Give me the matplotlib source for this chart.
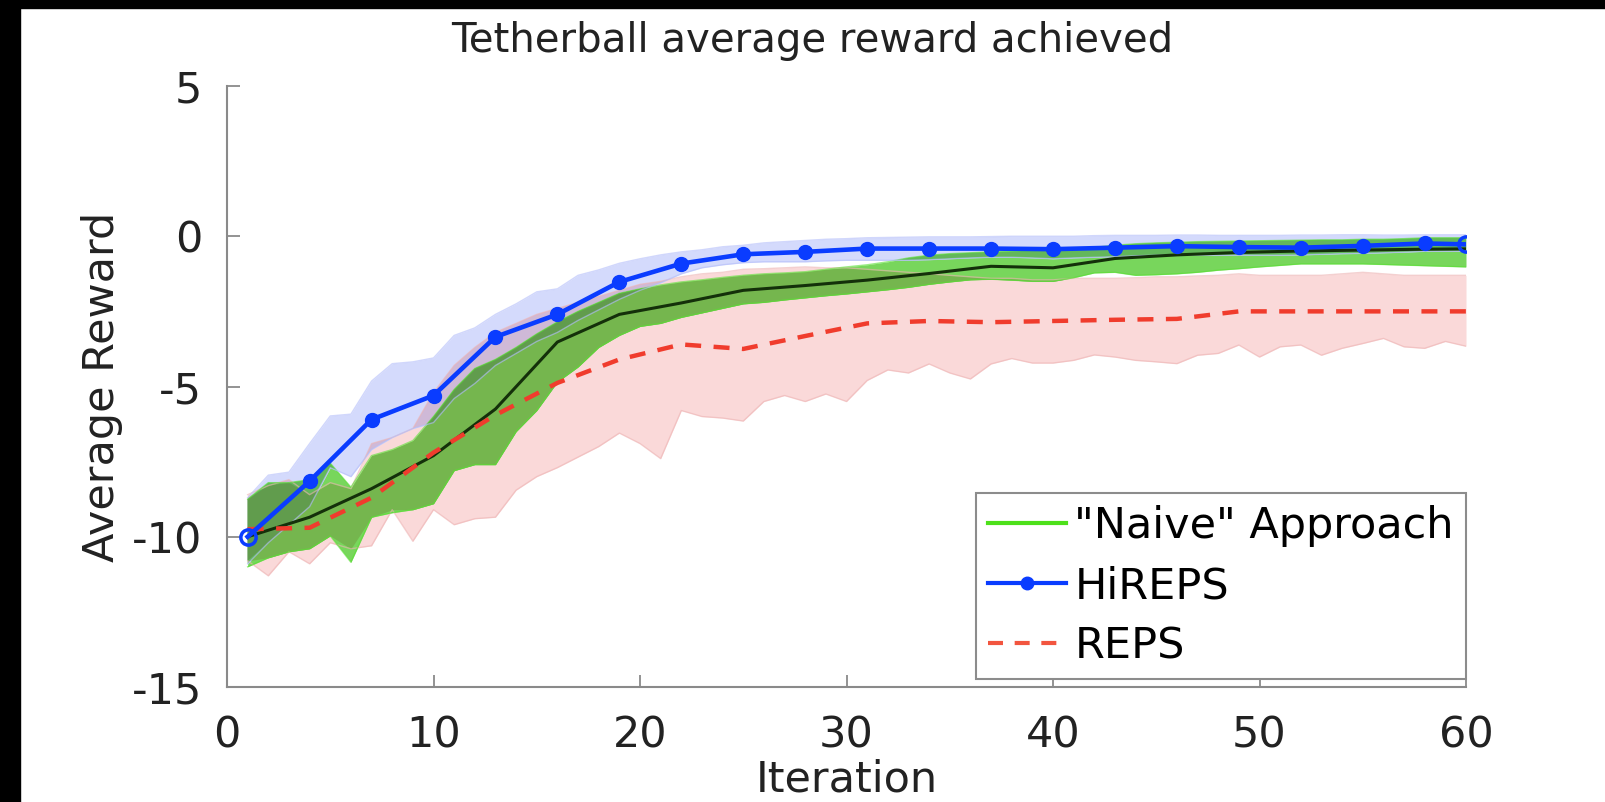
import numpy as np
import matplotlib
matplotlib.use("Agg")
import matplotlib.pyplot as plt
from matplotlib.lines import Line2D
from matplotlib.patches import Rectangle

plt.rcParams['font.family'] = ['DejaVu Sans']

iters = np.arange(1, 61)
mean_iters = [1, 4, 7, 10, 13, 16, 19, 22, 25, 28, 31, 34, 37, 40, 43, 46, 49, 52, 55, 58, 60]

hireps_mean = [-10.0, -8.15, -6.1, -5.3, -3.35, -2.6, -1.52, -0.91, -0.6, -0.52, -0.41,
               -0.41, -0.41, -0.43, -0.38, -0.33, -0.36, -0.38, -0.32, -0.24, -0.27]
naive_mean = [-10.0, -9.35, -8.4, -7.3, -5.75, -3.52, -2.6, -2.22, -1.8, -1.64, -1.46,
              -1.24, -1.0, -1.05, -0.74, -0.62, -0.54, -0.49, -0.46, -0.43, -0.42]
reps_mean = [-9.75, -9.7, -8.7, -7.2, -5.95, -4.88, -4.1, -3.6, -3.75, -3.32, -2.9,
             -2.82, -2.86, -2.82, -2.78, -2.75, -2.5, -2.5, -2.5, -2.5, -2.5]

hireps_hi = [-8.7, -7.95, -7.85, -6.9, -5.98, -5.92, -4.82, -4.24, -4.18, -4.05,
             -3.3, -3.05, -2.6, -2.25, -1.85, -1.75, -1.3, -1.12, -0.9, -0.75,
             -0.62, -0.52, -0.45, -0.35, -0.3, -0.22, -0.18, -0.14, -0.1, -0.08,
             -0.05, -0.04, -0.03, -0.02, -0.02, -0.02, -0.01, 0.0, 0.0, 0.0,
             0.0, 0.02, 0.03, 0.03, 0.03, 0.04, 0.04, 0.03, 0.03, 0.03,
             0.03, 0.04, 0.04, 0.05, 0.05, 0.04, 0.04, 0.05, 0.05, 0.05]
hireps_lo = [-10.9, -10.2, -9.6, -9.0, -7.7, -8.0, -7.1, -6.7, -6.4, -6.2,
             -5.4, -4.9, -4.3, -3.9, -3.5, -3.2, -2.8, -2.45, -2.1, -1.8,
             -1.55, -1.25, -1.05, -0.95, -0.88, -0.85, -0.85, -0.85, -0.82, -0.8,
             -0.8, -0.8, -0.8, -0.78, -0.75, -0.72, -0.7, -0.7, -0.72, -0.75,
             -0.72, -0.7, -0.68, -0.65, -0.63, -0.62, -0.62, -0.63, -0.63, -0.63,
             -0.63, -0.62, -0.6, -0.58, -0.57, -0.55, -0.53, -0.5, -0.5, -0.5]

naive_hi = [-8.75, -8.2, -8.2, -8.1, -7.55, -8.35, -7.3, -7.1, -6.8, -6.0,
            -5.1, -4.4, -4.1, -3.7, -3.25, -2.85, -2.5, -2.2, -1.9, -1.75,
            -1.62, -1.52, -1.45, -1.37, -1.3, -1.25, -1.22, -1.18, -1.1, -1.02,
            -0.95, -0.85, -0.72, -0.63, -0.58, -0.55, -0.52, -0.5, -0.48, -0.47,
            -0.42, -0.37, -0.3, -0.25, -0.22, -0.2, -0.18, -0.17, -0.16, -0.15,
            -0.14, -0.13, -0.12, -0.12, -0.1, -0.1, -0.08, -0.05, -0.05, -0.05]
naive_lo = [-11.0, -10.7, -10.5, -10.4, -9.97, -10.85, -9.35, -9.2, -9.1, -8.9,
            -7.8, -7.6, -7.6, -6.5, -5.8, -4.85, -4.35, -3.7, -3.3, -3.0,
            -2.9, -2.7, -2.55, -2.4, -2.25, -2.2, -2.12, -2.05, -1.98, -1.92,
            -1.85, -1.78, -1.7, -1.6, -1.52, -1.45, -1.43, -1.46, -1.5, -1.5,
            -1.38, -1.22, -1.2, -1.3, -1.28, -1.25, -1.2, -1.13, -1.08, -1.02,
            -0.97, -0.92, -0.92, -0.92, -0.92, -0.94, -0.96, -0.98, -1.0, -1.02]

reps_hi = [-8.6, -8.3, -8.1, -8.6, -8.2, -8.4, -6.9, -6.7, -6.4, -5.2,
           -4.3, -3.7, -3.2, -2.9, -2.6, -2.4, -2.2, -2.0, -1.8, -1.6,
           -1.5, -1.35, -1.25, -1.2, -1.1, -1.08, -1.05, -1.02, -1.05, -1.05,
           -1.1, -1.15, -1.2, -1.25, -1.3, -1.35, -1.4, -1.4, -1.45, -1.45,
           -1.4, -1.4, -1.4, -1.38, -1.35, -1.35, -1.32, -1.3, -1.25, -1.3,
           -1.3, -1.3, -1.3, -1.25, -1.2, -1.25, -1.3, -1.3, -1.3, -1.3]
reps_lo = [-10.8, -11.3, -10.5, -10.9, -10.2, -10.4, -10.3, -9.1, -10.15, -9.1,
           -9.6, -9.4, -9.35, -8.45, -8.0, -7.7, -7.35, -7.0, -6.55, -6.9,
           -7.4, -5.8, -6.0, -6.05, -6.15, -5.5, -5.3, -5.5, -5.25, -5.5,
           -4.8, -4.45, -4.55, -4.25, -4.55, -4.75, -4.25, -4.07, -4.22, -4.22,
           -4.13, -3.95, -4.02, -4.13, -4.18, -4.24, -3.96, -3.9, -3.62, -4.02,
           -3.68, -3.62, -3.96, -3.73, -3.57, -3.4, -3.68, -3.73, -3.5, -3.66]

labels = ['"Naive" Approach', 'HiREPS', 'REPS']

# shaded band colours; where bands overlap the colours are multiplied
bands = {
    'reps': (reps_lo, reps_hi, np.array([0.98, 0.85, 0.85])),
    'naive': (naive_lo, naive_hi, np.array([0.47, 0.84, 0.36])),
    'hireps': (hireps_lo, hireps_hi, np.array([0.83, 0.855, 0.99])),
}


def fill_bands(ax, names, z):
    lo = np.max([np.asarray(bands[n][0]) for n in names], axis=0)
    hi = np.min([np.asarray(bands[n][1]) for n in names], axis=0)
    col = np.prod([bands[n][2] for n in names], axis=0)
    ax.fill_between(iters, lo, hi, where=hi > lo, interpolate=True,
                    color=col, lw=0, zorder=z)


fig = plt.figure(figsize=(16.05, 8.02), dpi=100)
ax = fig.add_axes([227 / 1605, 1 - 687 / 802, 1239 / 1605, 601 / 802])

for n in ['reps', 'naive', 'hireps']:
    fill_bands(ax, [n], 1)
for pair in [['reps', 'naive'], ['reps', 'hireps'], ['naive', 'hireps']]:
    fill_bands(ax, pair, 1.2)
fill_bands(ax, ['reps', 'naive', 'hireps'], 1.4)

# thin band outlines
edge_cols = {'reps': (0.93, 0.7, 0.7), 'naive': (0.35, 0.88, 0.2), 'hireps': (0.7, 0.74, 0.98)}
for n, (lo, hi, _) in bands.items():
    ax.plot(iters, lo, color=edge_cols[n], lw=1, alpha=0.6, zorder=1.6)
    ax.plot(iters, hi, color=edge_cols[n], lw=1, alpha=0.6, zorder=1.6)

ax.plot(mean_iters, naive_mean, color='#14300a', lw=2.2, zorder=4)
ax.plot(mean_iters, reps_mean, color='#f03c2d', lw=3.2, dashes=(3.6, 2.8), zorder=4)
ax.plot(mean_iters, hireps_mean, color='#0a3cff', lw=3.3, marker='o', ms=10,
        markevery=list(range(1, len(mean_iters) - 1)), zorder=5)
ax.plot([mean_iters[0], mean_iters[-1]], [hireps_mean[0], hireps_mean[-1]], 'o',
        ms=11, mfc='none', mec='#0a3cff', mew=2.5, zorder=5)

ax.set_xlim(0, 60)
ax.set_ylim(-15, 5)
ax.set_xticks([0, 10, 20, 30, 40, 50, 60])
ax.set_yticks([-15, -10, -5, 0, 5])
ax.set_yticklabels(['-15', '-10', '-5', '0', '5'])
for s in ['top', 'right']:
    ax.spines[s].set_visible(False)
for s in ['left', 'bottom']:
    ax.spines[s].set_color('#8a8a8a')
    ax.spines[s].set_linewidth(1.5)
ax.tick_params(direction='in', length=9, width=1.3, color='#8a8a8a',
               labelsize=31, labelcolor='#222222')
ax.tick_params(axis='x', pad=20)
ax.tick_params(axis='y', pad=18)

fig.text(812 / 1605, 1 - 41 / 802, 'Tetherball average reward achieved',
         ha='center', va='center', fontsize=29, color='#222222')
ax.set_ylabel('Average Reward', fontsize=31, color='#222222', labelpad=6)
fig.text(847 / 1605, 1 - 792 / 802, 'Iteration', ha='center', va='baseline',
         fontsize=31, color='#222222')

handles = [
    Line2D([], [], color='#4de01a', lw=3),
    Line2D([], [], color='#0a3cff', lw=3, marker='o', ms=9),
    Line2D([], [], color='#f2553f', lw=3, dashes=(3.6, 2.8)),
]
leg = ax.legend(handles, labels, loc='upper right', bbox_to_anchor=(1.0, 0.3228),
                fontsize=31, fancybox=False, edgecolor='#8c8c8c', framealpha=1,
                handlelength=1.8, handletextpad=0.2, labelspacing=0.42,
                borderpad=0.28, borderaxespad=0)
leg.get_frame().set_linewidth(1.5)
leg.set_zorder(10)

# black strips along the left and top edges
fig.add_artist(Rectangle((0, 0), 20 / 1605, 1, transform=fig.transFigure,
                         color='black', zorder=20))
fig.add_artist(Rectangle((0, 1 - 8 / 802), 1, 8 / 802, transform=fig.transFigure,
                         color='black', zorder=20))

fig.savefig('out.png', dpi=100)
